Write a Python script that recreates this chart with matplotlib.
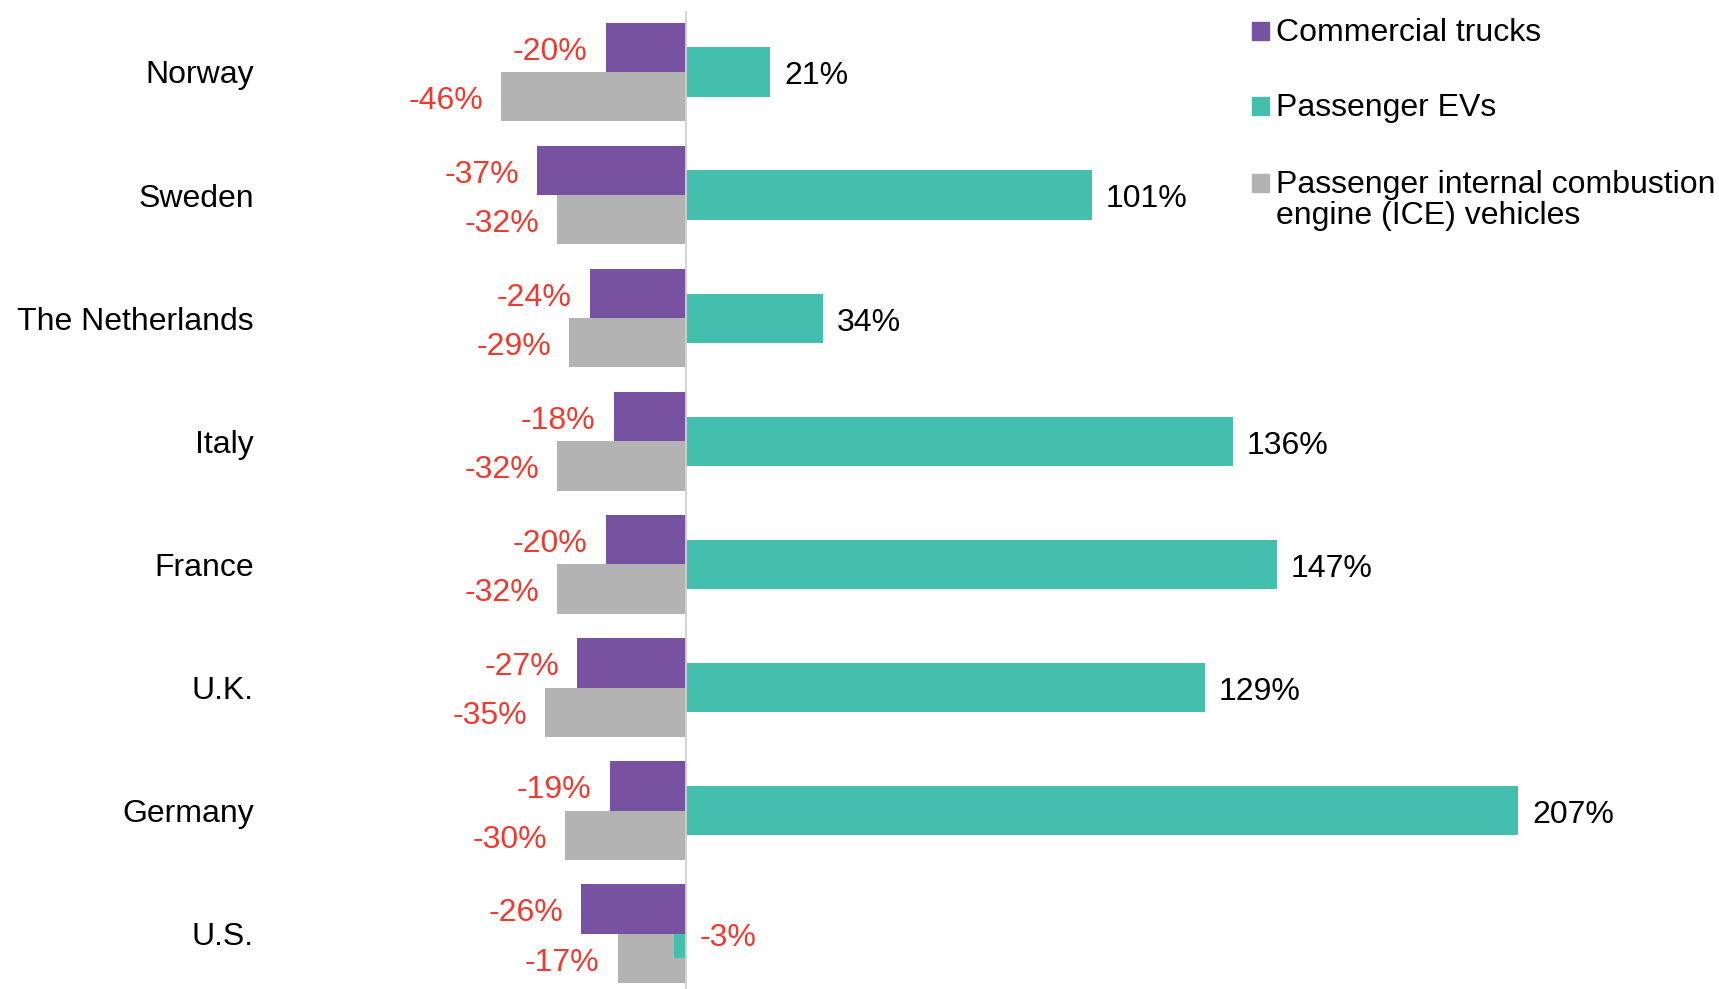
import numpy as np
import matplotlib
matplotlib.use('Agg')
import matplotlib.pyplot as plt
from matplotlib.patches import Rectangle

countries = ['Norway', 'Sweden', 'The Netherlands', 'Italy', 'France', 'U.K.', 'Germany', 'U.S.']
trucks = [-20, -37, -24, -18, -20, -27, -19, -26]
evs = [21, 101, 34, 136, 147, 129, 207, -3]
ice = [-46, -32, -29, -32, -32, -35, -30, -17]

series_names = ['Commercial trucks', 'Passenger EVs',
                'Passenger internal combustion\nengine (ICE) vehicles']

purple = '#7652A1'
teal = '#45BFAD'
gray = '#B3B3B3'
red = '#F03A2E'

plt.rcParams['font.family'] = ['Liberation Sans', 'DejaVu Sans']
fs = 23

W, H = 1719, 989
fig = plt.figure(figsize=(W / 100, H / 100), dpi=100)

# axes placement in pixels
left_px, top_px = 265, 11
ax = fig.add_axes([left_px / W, 0, 1 - left_px / W, 1 - top_px / H])

px_per_pct = 4.02
zero_px = 686
row_px = 123.1
center0_px = 72
ax.set_xlim(-(zero_px - left_px) / px_per_pct, (W - zero_px) / px_per_pct)
ax.set_ylim((H - center0_px) / row_px, -(center0_px - top_px) / row_px)

y = np.arange(len(countries))
h = 0.4
# draw order: gray, teal, purple on top
ax.barh(y + 0.2, ice, height=h, color=gray, zorder=2)
ax.barh(y, evs, height=h, color=teal, zorder=3)
ax.barh(y - 0.2, trucks, height=h, color=purple, zorder=4)
ax.axvline(0, color='#D0D0D0', lw=1.3, zorder=5)


def label(v, yy, left_side):
    col = red if v < 0 else 'black'
    if left_side:
        ax.text(v - 4.5, yy, f'{v}%', ha='right', va='center', color=col, fontsize=fs)
    else:
        ax.text(max(v, 0) + 3.5, yy, f'{v}%', ha='left', va='center', color=col, fontsize=fs)


for i in range(len(countries)):
    label(trucks[i], y[i] - 0.2 + 0.035, True)
    label(ice[i], y[i] + 0.2 + 0.035, True)
    label(evs[i], y[i] + 0.035, False)

ax.set_yticks(y)
ax.set_yticklabels(countries, fontsize=fs)
ax.tick_params(axis='y', length=0, pad=8)
ax.set_xticks([])
for s in ax.spines.values():
    s.set_visible(False)

# legend drawn by hand
colors = [purple, teal, gray]
rows_y = [31, 106, 183]
for c, name, ry in zip(colors, series_names, rows_y):
    fig.patches.append(Rectangle((1252 / W, 1 - (ry + 8.5) / H), 17 / W, 17 / H,
                                 transform=fig.transFigure, color=c))
    for k, line in enumerate(name.split('\n')):
        fig.text(1276 / W, 1 - (ry + 2 + 31 * k) / H, line, ha='left', va='center', fontsize=fs)

plt.savefig('out.png', dpi=100)
